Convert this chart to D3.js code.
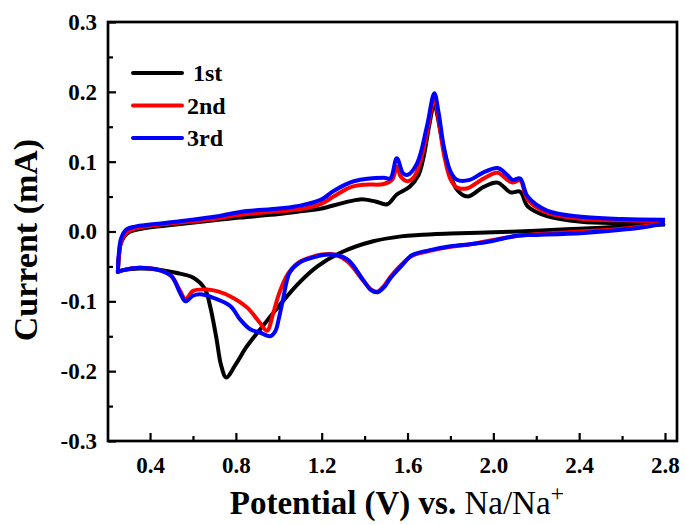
<!DOCTYPE html>
<html>
<head>
<meta charset="utf-8">
<script src="https://cdn.jsdelivr.net/npm/d3@7"></script>
<style>
  body { margin: 0; background: #fff; }
  text { font-family: "Liberation Serif", "Times New Roman", serif; font-weight: bold; }
</style>
</head>
<body>
<div id="chart"></div>
<script>
// CV sweeps, [potential (V), current (mA)], cathodic = 2.8 -> 0.25, anodic = 0.25 -> 2.8
var cycle1Cathodic = [[2.8,0.01],[2.6,0.007],[2.4,0.004],[2.2,0.001],[2.0,-0.001],[1.8,-0.003],[1.65,-0.005],[1.57,-0.007],[1.44,-0.014],[1.29,-0.03],[1.18,-0.05],[1.09,-0.075],[1.0,-0.107],[0.95,-0.126],[0.85,-0.165],[0.8,-0.19],[0.755,-0.209],[0.73,-0.19],[0.71,-0.154],[0.68,-0.107],[0.655,-0.082],[0.6,-0.066],[0.52,-0.059],[0.45,-0.055],[0.35,-0.053],[0.28,-0.055],[0.25,-0.058]];
var cycle1Anodic = [[0.25,-0.058],[0.255,-0.035],[0.265,-0.016],[0.297,-0.002],[0.36,0.004],[0.52,0.01],[0.7,0.016],[0.82,0.02],[1.0,0.025],[1.1,0.029],[1.2,0.033],[1.3,0.041],[1.38,0.046],[1.45,0.043],[1.505,0.039],[1.55,0.053],[1.61,0.064],[1.65,0.08],[1.675,0.107],[1.7,0.15],[1.725,0.184],[1.74,0.165],[1.755,0.14],[1.785,0.098],[1.83,0.06],[1.88,0.05],[1.955,0.064],[2.02,0.07],[2.08,0.056],[2.125,0.057],[2.16,0.036],[2.25,0.022],[2.41,0.014],[2.6,0.012],[2.8,0.011]];

var cycle2Cathodic = [[2.8,0.012],[2.6,0.004],[2.4,0.0],[2.2,-0.004],[2.1,-0.007],[2.0,-0.012],[1.9,-0.018],[1.8,-0.022],[1.7,-0.028],[1.62,-0.035],[1.57,-0.048],[1.52,-0.065],[1.49,-0.078],[1.46,-0.086],[1.43,-0.083],[1.39,-0.069],[1.32,-0.043],[1.26,-0.033],[1.2,-0.033],[1.16,-0.036],[1.09,-0.045],[1.04,-0.062],[1.0,-0.09],[0.975,-0.116],[0.945,-0.142],[0.91,-0.13],[0.853,-0.109],[0.775,-0.093],[0.72,-0.086],[0.665,-0.083],[0.6,-0.085],[0.565,-0.097],[0.54,-0.085],[0.5,-0.064],[0.45,-0.056],[0.35,-0.052],[0.28,-0.055],[0.25,-0.058]];
var cycle2Anodic = [[0.25,-0.058],[0.255,-0.035],[0.265,-0.015],[0.29,-0.002],[0.33,0.004],[0.4,0.008],[0.52,0.012],[0.7,0.018],[0.82,0.024],[1.0,0.029],[1.1,0.032],[1.2,0.04],[1.255,0.05],[1.33,0.063],[1.4,0.067],[1.49,0.068],[1.53,0.075],[1.55,0.093],[1.57,0.078],[1.6,0.072],[1.63,0.078],[1.66,0.1],[1.69,0.14],[1.725,0.19],[1.745,0.16],[1.77,0.11],[1.8,0.075],[1.83,0.063],[1.88,0.062],[1.95,0.075],[2.02,0.084],[2.065,0.074],[2.09,0.07],[2.125,0.073],[2.16,0.046],[2.25,0.027],[2.41,0.018],[2.6,0.016],[2.8,0.015]];

var cycle3Cathodic = [[2.8,0.012],[2.7,0.006],[2.42,-0.002],[2.2,-0.005],[2.11,-0.006],[1.99,-0.014],[1.9,-0.018],[1.8,-0.021],[1.7,-0.027],[1.62,-0.034],[1.57,-0.05],[1.52,-0.067],[1.49,-0.08],[1.46,-0.087],[1.43,-0.084],[1.39,-0.068],[1.32,-0.04],[1.24,-0.033],[1.13,-0.04],[1.09,-0.046],[1.05,-0.059],[1.02,-0.097],[1.0,-0.125],[0.985,-0.142],[0.96,-0.15],[0.915,-0.145],[0.867,-0.14],[0.82,-0.126],[0.775,-0.107],[0.695,-0.095],[0.633,-0.09],[0.6,-0.092],[0.565,-0.1],[0.54,-0.088],[0.5,-0.064],[0.45,-0.056],[0.35,-0.052],[0.28,-0.055],[0.25,-0.058]];
var cycle3Anodic = [[0.25,-0.058],[0.255,-0.03],[0.265,-0.01],[0.29,0.003],[0.33,0.007],[0.4,0.01],[0.52,0.014],[0.7,0.021],[0.82,0.028],[1.0,0.033],[1.1,0.037],[1.2,0.046],[1.255,0.058],[1.35,0.072],[1.49,0.077],[1.52,0.076],[1.55,0.105],[1.58,0.083],[1.6,0.081],[1.645,0.098],[1.69,0.15],[1.725,0.198],[1.745,0.17],[1.77,0.12],[1.8,0.086],[1.83,0.074],[1.89,0.074],[1.95,0.084],[2.02,0.091],[2.065,0.081],[2.09,0.074],[2.125,0.076],[2.16,0.05],[2.25,0.03],[2.41,0.021],[2.6,0.018],[2.8,0.017]];

var cycleNames = ["1st", "2nd", "3rd"];
var cycleColors = ["#000000", "#ff0000", "#0000ff"];
var xTicks = [0.4, 0.8, 1.2, 1.6, 2.0, 2.4, 2.8];
var xMinor = [0.6, 1.0, 1.4, 1.8, 2.2, 2.6];
var yTicks = [-0.3, -0.2, -0.1, 0.0, 0.1, 0.2, 0.3];
var yMinor = [-0.25, -0.15, -0.05, 0.05, 0.15, 0.25];

var cycles = [
  cycle1Cathodic.concat(cycle1Anodic),
  cycle2Cathodic.concat(cycle2Anodic),
  cycle3Cathodic.concat(cycle3Anodic)
];

var width = 686, height = 525;
var margin = {top: 22, right: 9, bottom: 84, left: 108};

var svg = d3.select("#chart").append("svg")
    .attr("width", width)
    .attr("height", height);

var x = d3.scaleLinear().domain([0.204, 2.856]).range([margin.left, width - margin.right]);
var y = d3.scaleLinear().domain([-0.3, 0.3]).range([height - margin.bottom, margin.top]);

var line = d3.line()
    .x(function(d) { return x(d[0]); })
    .y(function(d) { return y(d[1]); })
    .curve(d3.curveCatmullRom.alpha(0.5));

var plot = svg.append("g");
plot.selectAll(".cv")
    .data(cycles)
    .enter().append("path")
    .attr("class", "cv")
    .attr("d", line)
    .attr("fill", "none")
    .attr("stroke", function(d, i) { return cycleColors[i]; })
    .attr("stroke-width", 4)
    .attr("stroke-linejoin", "round");

// axes, ticks inward; hyphen minus like the original
var fmt = function(d) { return d3.format(".1f")(d).replace("\u2212", "-"); };
var xAxis = svg.append("g")
    .attr("transform", "translate(0," + (height - margin.bottom) + ")")
    .call(d3.axisBottom(x).tickValues(xTicks).tickSize(-8).tickPadding(16).tickFormat(fmt));
var xAxisMinor = svg.append("g")
    .attr("transform", "translate(0," + (height - margin.bottom) + ")")
    .call(d3.axisBottom(x).tickValues(xMinor).tickSize(-5).tickFormat(""));
var yAxis = svg.append("g")
    .attr("transform", "translate(" + margin.left + ",0)")
    .call(d3.axisLeft(y).tickValues(yTicks).tickSize(-8).tickPadding(11).tickFormat(fmt));
var yAxisMinor = svg.append("g")
    .attr("transform", "translate(" + margin.left + ",0)")
    .call(d3.axisLeft(y).tickValues(yMinor).tickSize(-5).tickFormat(""));

[xAxis, xAxisMinor, yAxis, yAxisMinor].forEach(function(a) {
  a.select(".domain").remove();
  a.selectAll(".tick line").attr("stroke", "#000").attr("stroke-width", 2.2);
  a.selectAll(".tick text").attr("fill", "#000").style("font-size", "23px")
    .style("font-family", "'Liberation Serif', serif").style("font-weight", "bold");
});

svg.append("rect")
    .attr("x", margin.left)
    .attr("y", margin.top)
    .attr("width", width - margin.left - margin.right)
    .attr("height", height - margin.top - margin.bottom)
    .attr("fill", "none")
    .attr("stroke", "#000")
    .attr("stroke-width", 2.7);

// axis titles
var xTitle = svg.append("text")
    .attr("x", 397)
    .attr("y", 514)
    .attr("text-anchor", "middle")
    .style("font-size", "33px");
xTitle.append("tspan").text("Potential (V) vs. ");
xTitle.append("tspan").style("font-weight", "normal").text("Na/Na");
xTitle.append("tspan").style("font-weight", "normal").attr("dy", -13).style("font-size", "24px").text("+");

svg.append("text")
    .attr("transform", "translate(37,240) rotate(-90)")
    .attr("text-anchor", "middle")
    .style("font-size", "34px")
    .text("Current (mA)");

// legend
var legend = svg.append("g").selectAll("g")
    .data(cycleNames)
    .enter().append("g")
    .attr("transform", function(d, i) { return "translate(133," + (73 + i * 32.5) + ")"; });
legend.append("line")
    .attr("x1", 0).attr("x2", 49)
    .attr("stroke", function(d, i) { return cycleColors[i]; })
    .attr("stroke-width", 4)
    .attr("stroke-linecap", "round");
legend.append("text")
    .attr("x", function(d, i) { return i === 0 ? 60 : 54; })
    .attr("y", 8)
    .style("font-size", "24px")
    .text(function(d) { return d; });
</script>
</body>
</html>
